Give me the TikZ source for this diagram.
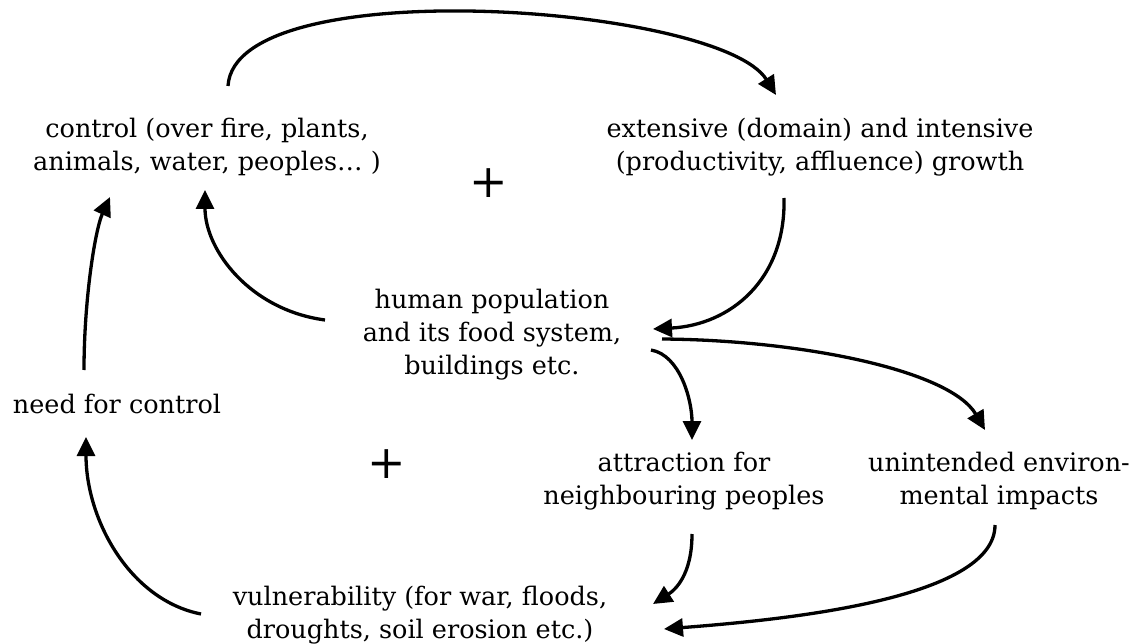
\documentclass[tikz,border=0pt]{standalone}
\usepackage{fontspec}
\setmainfont{DejaVu Serif}
\usetikzlibrary{arrows.meta}

\begin{document}
\begin{tikzpicture}[x=1pt, y=-1pt,
    lbl/.style={align=center, inner sep=0pt, font=\fontsize{25.5}{33}\selectfont},
    plus/.style={inner sep=0pt, font=\fontsize{46}{46}\selectfont},
    arr/.style={line width=3.3pt, -{Triangle[length=19pt,width=18pt]}}]
  \useasboundingbox (0,0) rectangle (1146,644);

  \node[lbl] (ctrl)   at (207,147) {control (over fire, plants,\\animals, water, peoples… )};
  \node[lbl] (growth) at (820,147) {extensive (domain) and intensive\\(productivity, affluence) growth};
  \node[lbl] (pop)    at (492,335) {human population\\and its food system,\\buildings etc.};
  \node[lbl] (need)   at (117,404) {need for control};
  \node[lbl] (attr)   at (684,481) {attraction for\\neighbouring peoples};
  \node[lbl] (unint)  at (999,481) {unintended environ-\\mental impacts};
  \node[lbl] (vuln)   at (420,615) {vulnerability (for war, floods,\\droughts, soil erosion etc.)};
  \node[plus] (plusA) at (489,183) {+};
  \node[plus] (plusB) at (387,464) {+};

  % upper loop
  \draw[arr] ([shift={(21,-61)}]ctrl.center) .. controls (235,-30) and (720,5) .. ([shift={(-44,-52)}]growth.center);
  \draw[arr] ([shift={(-36,51)}]growth.center) .. controls (786,280) and (730,325) .. ([shift={(161,-6)}]pop.center);
  \draw[arr] ([shift={(-167,-15)}]pop.center) .. controls (250,310) and (205,250) .. ([shift={(-2,43)}]ctrl.center);

  % lower loop
  \draw[arr] ([shift={(159,15)}]pop.center) .. controls (680,355) and (692,400) .. ([shift={(8,-41)}]attr.center);
  \draw[arr] ([shift={(170,4)}]pop.center) .. controls (800,340) and (950,370) .. ([shift={(-14,-51)}]unint.center);
  \draw[arr] ([shift={(8,53)}]attr.center) .. controls (692,575) and (675,590) .. ([shift={(233,-11)}]vuln.center);
  \draw[arr] ([shift={(-4,44)}]unint.center) .. controls (995,600) and (780,620) .. ([shift={(244,14)}]vuln.center);
  \draw[arr] ([shift={(-219,-1)}]vuln.center) .. controls (130,600) and (86,520) .. ([shift={(-31,33)}]need.center);
  \draw[arr] ([shift={(-33,-34)}]need.center) .. controls (84,300) and (95,230) .. ([shift={(-97,50)}]ctrl.center);
\end{tikzpicture}
\end{document}
